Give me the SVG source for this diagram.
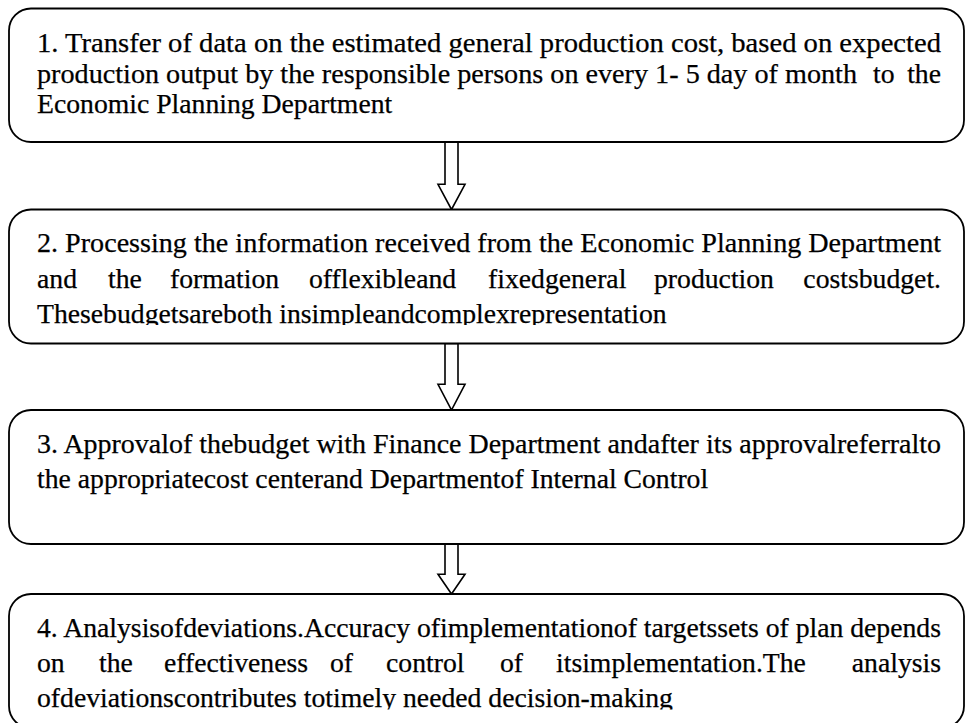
<svg xmlns="http://www.w3.org/2000/svg" width="966" height="723" viewBox="0 0 966 723">
  <style>
    .box { fill: #ffffff; stroke: #000000; stroke-width: 1.8; }
    .arrow { fill: #ffffff; stroke: #000000; stroke-width: 1.6; stroke-linejoin: miter; }
    .t { font-family: "Liberation Serif", "Times New Roman", serif; font-size: 27.7px; fill: #000000; stroke: #000000; stroke-width: 0.25; }
  </style>
  <defs>
    <clipPath id="clip2"><rect x="0" y="200" width="966" height="125"/></clipPath>
    <clipPath id="clip4"><rect x="0" y="585" width="966" height="124.5"/></clipPath>
  </defs>
  <rect x="0" y="0" width="966" height="723" fill="#ffffff"/>

  <g id="connectors">
    <polygon class="arrow" points="445,142 458,142 458,184.3 465,184.3 451.5,209.5 438,184.3 445,184.3"/>
    <polygon class="arrow" points="445,343.5 458,343.5 458,384.3 465,384.3 451.5,410 438,384.3 445,384.3"/>
    <polygon class="arrow" points="445,544 458,544 458,574.3 465,574.3 451.5,594 438,574.3 445,574.3"/>
  </g>

  <g id="node1">
    <rect class="box" x="9" y="8.5" width="955" height="133.5" rx="22" ry="22"/>
    <text class="t" x="37" y="52" textLength="904" lengthAdjust="spacingAndGlyphs">1. Transfer of data on the estimated general production cost, based on expected</text>
    <text class="t" y="82.5"><tspan x="37" textLength="820" lengthAdjust="spacingAndGlyphs">production output by the responsible persons on every 1- 5 day of month</tspan><tspan x="873">to</tspan><tspan x="941" text-anchor="end">the</tspan></text>
    <text class="t" x="37" y="113">Economic Planning Department</text>
  </g>

  <g id="node2">
    <rect class="box" x="9" y="209.5" width="955" height="134" rx="22" ry="22"/>
    <g clip-path="url(#clip2)">
      <text class="t" x="37" y="252" textLength="904" lengthAdjust="spacingAndGlyphs">2. Processing the information received from the Economic Planning Department</text>
      <text class="t" y="287.5"><tspan x="37">and</tspan><tspan x="108">the</tspan><tspan x="170">formation</tspan><tspan x="309">offlexibleand</tspan><tspan x="488">fixedgeneral</tspan><tspan x="654">production</tspan><tspan x="941" text-anchor="end">costsbudget.</tspan></text>
      <text class="t" x="37" y="322.5">Thesebudgetsareboth insimpleandcomplexrepresentation</text>
    </g>
  </g>

  <g id="node3">
    <rect class="box" x="9" y="410" width="955" height="134" rx="22" ry="22"/>
    <text class="t" x="37" y="452.5" textLength="904" lengthAdjust="spacingAndGlyphs">3. Approvalof thebudget with Finance Department andafter its approvalreferralto</text>
    <text class="t" x="37" y="488">the appropriatecost centerand Departmentof Internal Control</text>
  </g>

  <g id="node4">
    <rect class="box" x="9" y="594" width="955" height="134" rx="22" ry="22"/>
    <g clip-path="url(#clip4)">
      <text class="t" x="37" y="636.5" textLength="904" lengthAdjust="spacingAndGlyphs">4. Analysisofdeviations.Accuracy ofimplementationof targetssets of plan depends</text>
      <text class="t" y="672"><tspan x="37">on</tspan><tspan x="99">the</tspan><tspan x="164">effectiveness</tspan><tspan x="330">of</tspan><tspan x="386">control</tspan><tspan x="500">of</tspan><tspan x="556">itsimplementation.The</tspan><tspan x="941" text-anchor="end">analysis</tspan></text>
      <text class="t" x="37" y="707">ofdeviationscontributes totimely needed decision-making</text>
    </g>
  </g>
</svg>
